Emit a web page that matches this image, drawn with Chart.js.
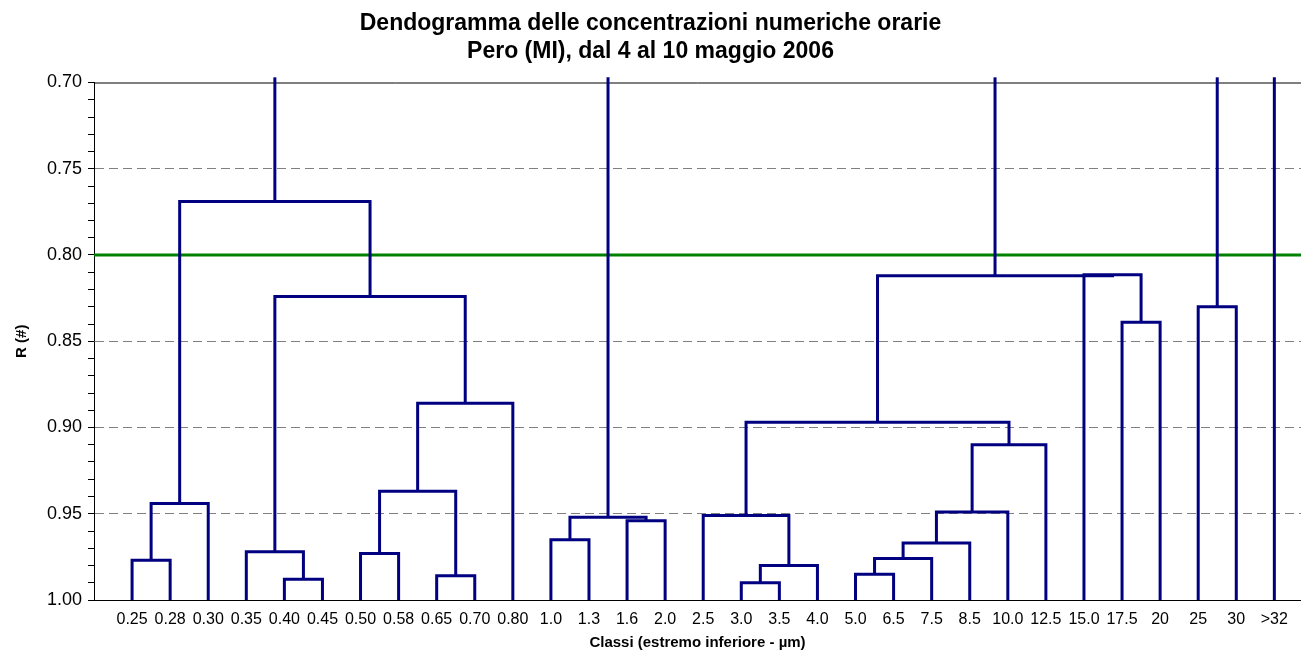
<!DOCTYPE html>
<html>
<head>
<meta charset="utf-8">
<script src="https://cdn.jsdelivr.net/npm/chart.js@4"></script>
<style>
  body { margin: 0; background: #fff; }
  canvas { display: block; }
</style>
</head>
<body>
<canvas id="dendoChart" width="1301" height="671"></canvas>
<script>
// classi dimensionali (foglie del dendrogramma)
const classi = ['0.25','0.28','0.30','0.35','0.40','0.45','0.50','0.58','0.65','0.70','0.80',
                '1.0','1.3','1.6','2.0','2.5','3.0','3.5','4.0','5.0','6.5','7.5','8.5',
                '10.0','12.5','15.0','17.5','20','25','30','>32'];

// legami: nodi uniti (0..30 foglie, 31.. cluster nell'ordine dei legami) e livello R
const nodoSx   = [0, 31, 4, 3, 6, 8, 35, 37, 34, 32, 11, 13, 41, 16, 44, 15, 19, 47, 48, 49, 50, 46, 26, 25, 52, 28];
const nodoDx   = [1, 2, 5, 33, 7, 9, 36, 10, 38, 39, 12, 14, 42, 17, 18, 45, 20, 21, 22, 23, 24, 51, 27, 53, 54, 29];
const livelloR = [0.977, 0.944, 0.988, 0.972, 0.973, 0.986, 0.937, 0.886, 0.824, 0.769,
                  0.965, 0.954, 0.952, 0.990, 0.980, 0.951, 0.985, 0.976, 0.967, 0.949,
                  0.910, 0.897, 0.839, 0.8115, 0.812, 0.830];

const sogliaR = 0.80;   // livello di taglio
const cimaR = 0.697;    // i rami radice salgono oltre il bordo
const rMin = 0.70, rMax = 1.00;
const xMax = 31.7;

const nFoglie = classi.length;
const blu = '#000080';

// posizione x e livello di ogni nodo
const posX = [], posR = [];
classi.forEach((c, i) => { posX[i] = i + 1; posR[i] = rMax; });
livelloR.forEach((h, k) => {
    const id = nFoglie + k;
    posX[id] = (posX[nodoSx[k]] + posX[nodoDx[k]]) / 2;
    posR[id] = h;
});

const datasets = [];

// ramo a "U" per ogni legame
livelloR.forEach((h, k) => {
    const a = nodoSx[k], b = nodoDx[k];
    datasets.push({
        data: [
            { x: posX[a], y: posR[a] },
            { x: posX[a], y: h },
            { x: posX[b], y: h },
            { x: posX[b], y: posR[b] }
        ],
        borderColor: blu, borderWidth: 3, order: 0
    });
});

// radici: nodi che non compaiono in nessun legame
const usati = new Set([...nodoSx, ...nodoDx]);
posX.forEach((x, id) => {
    if (usati.has(id)) return;
    datasets.push({
        data: [{ x: x, y: posR[id] }, { x: x, y: cimaR }],
        borderColor: blu, borderWidth: 3, order: 0
    });
});

// linea di soglia
datasets.push({
    data: [{ x: 0, y: sogliaR }, { x: xMax, y: sogliaR }],
    borderColor: '#008000', borderWidth: 3, order: 1
});

datasets.forEach(ds => {
    ds.showLine = true;
    ds.pointRadius = 0;
    ds.fill = false;
    ds.tension = 0;
    ds.clip = false;
    ds.borderJoinStyle = 'miter';
    ds.borderCapStyle = 'butt';
});

const fontFam = "'Liberation Sans', Arial, Helvetica, sans-serif";

// bordo superiore dell'area del grafico
const bordoAlto = {
    id: 'bordoAlto',
    beforeDatasetsDraw(chart) {
        const { ctx, chartArea } = chart;
        ctx.save();
        ctx.strokeStyle = '#000';
        ctx.lineWidth = 1;
        ctx.beginPath();
        ctx.moveTo(chartArea.left, chartArea.top + 0.5);
        ctx.lineTo(chartArea.right, chartArea.top + 0.5);
        ctx.stroke();
        ctx.restore();
    }
};

const isMajor = v => Math.round(v * 100) % 5 === 0;

new Chart(document.getElementById('dendoChart'), {
    type: 'scatter',
    data: { datasets: datasets },
    plugins: [bordoAlto],
    options: {
        responsive: false,
        animation: false,
        layout: { padding: 0 },
        plugins: {
            legend: { display: false },
            tooltip: { enabled: false },
            title: {
                display: true,
                text: ['Dendogramma delle concentrazioni numeriche orarie', 'Pero (MI), dal 4 al 10 maggio 2006'],
                color: '#000',
                font: { family: fontFam, size: 23, weight: 'bold', lineHeight: 1.25 },
                padding: { top: 9, bottom: 16 }
            }
        },
        scales: {
            x: {
                type: 'linear',
                min: 0,
                max: xMax,
                afterBuildTicks: axis => { axis.ticks = classi.map((c, i) => ({ value: i + 1 })); },
                afterFit: scale => { scale.height = 71; },
                grid: { display: false, drawTicks: false },
                border: { color: '#000', width: 1 },
                ticks: {
                    autoSkip: false,
                    maxRotation: 0,
                    padding: 10,
                    color: '#000',
                    font: { family: fontFam, size: 16 },
                    callback: v => classi[v - 1]
                },
                title: {
                    display: true,
                    text: 'Classi (estremo inferiore - µm)',
                    color: '#000',
                    font: { family: fontFam, size: 15, weight: 'bold' },
                    padding: { top: 0, bottom: 19 }
                }
            },
            y: {
                type: 'linear',
                reverse: true,
                min: rMin,
                max: rMax,
                afterFit: scale => { scale.width = 94; },
                ticks: {
                    stepSize: 0.01,
                    autoSkip: false,
                    padding: 6,
                    color: '#000',
                    font: { family: fontFam, size: 18 },
                    callback: v => isMajor(v) ? v.toFixed(2) : ''
                },
                grid: {
                    color: c => (c.tick && isMajor(c.tick.value) && c.tick.value > rMin + 0.001 && c.tick.value < rMax - 0.001) ? '#808080' : 'transparent',
                    tickColor: '#000',
                    tickLength: 6,
                    lineWidth: 1
                },
                border: { color: '#000', width: 1, dash: [9, 5] },
                title: {
                    display: true,
                    text: 'R (#)',
                    color: '#000',
                    font: { family: fontFam, size: 15, weight: 'bold' },
                    padding: { top: 13, bottom: 0 }
                }
            }
        }
    }
});
</script>
</body>
</html>
